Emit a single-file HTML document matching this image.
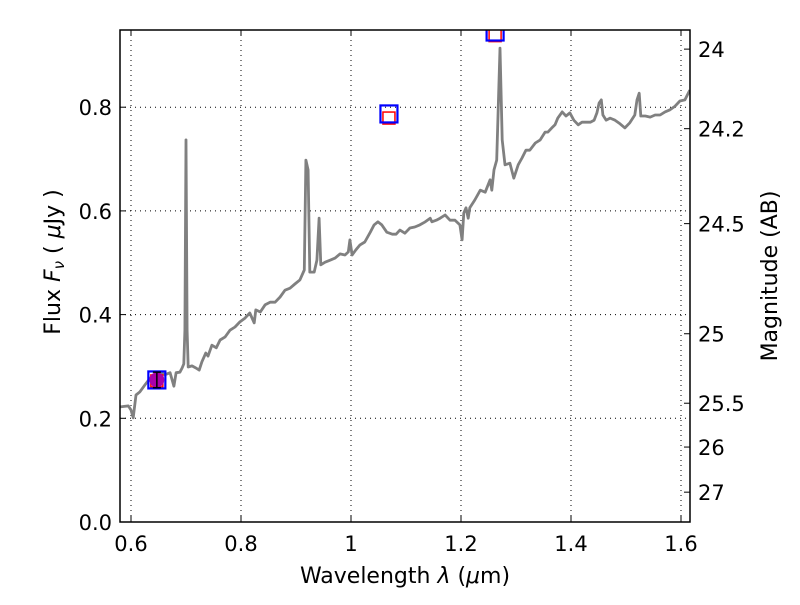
<!DOCTYPE html>
<html><head><meta charset="utf-8"><style>
body{margin:0;background:#fff;font-family:"Liberation Sans","DejaVu Sans",sans-serif;}
svg text{font-family:"DejaVu Sans","Liberation Sans",sans-serif;}
</style></head><body>
<svg id="chart" width="800" height="600" xmlns="http://www.w3.org/2000/svg"></svg>
<script>
const specLambda=[0.580,0.595,0.600,0.604,0.609,0.616,0.625,0.635,0.644,0.653,0.662,0.671,0.678,0.682,0.689,0.693,0.696,0.698,0.700,0.702,0.704,0.711,0.718,0.724,0.729,0.736,0.740,0.747,0.755,0.762,0.771,0.780,0.789,0.798,0.807,0.816,0.824,0.827,0.835,0.844,0.853,0.862,0.871,0.880,0.889,0.898,0.907,0.915,0.918,0.922,0.925,0.933,0.938,0.942,0.945,0.953,0.962,0.971,0.980,0.989,0.995,0.998,1.002,1.009,1.016,1.025,1.035,1.042,1.049,1.056,1.065,1.075,1.082,1.089,1.098,1.107,1.116,1.125,1.135,1.144,1.147,1.155,1.162,1.171,1.180,1.189,1.198,1.202,1.205,1.209,1.213,1.216,1.225,1.235,1.244,1.253,1.256,1.260,1.265,1.271,1.275,1.280,1.289,1.296,1.304,1.311,1.318,1.325,1.335,1.344,1.353,1.358,1.365,1.371,1.376,1.384,1.391,1.398,1.405,1.413,1.420,1.427,1.435,1.442,1.447,1.451,1.455,1.458,1.464,1.471,1.480,1.489,1.498,1.507,1.516,1.520,1.524,1.527,1.535,1.544,1.553,1.562,1.571,1.580,1.589,1.598,1.607,1.616];
const specFlux=[0.222,0.224,0.216,0.201,0.245,0.251,0.264,0.278,0.284,0.288,0.284,0.288,0.262,0.288,0.289,0.297,0.305,0.370,0.737,0.370,0.299,0.301,0.297,0.293,0.309,0.326,0.320,0.341,0.336,0.351,0.357,0.370,0.376,0.386,0.393,0.403,0.384,0.409,0.405,0.419,0.424,0.424,0.434,0.447,0.451,0.459,0.467,0.486,0.698,0.679,0.482,0.482,0.505,0.586,0.496,0.501,0.505,0.509,0.517,0.515,0.521,0.544,0.515,0.525,0.534,0.540,0.559,0.573,0.579,0.573,0.559,0.555,0.555,0.563,0.557,0.567,0.569,0.573,0.579,0.586,0.579,0.582,0.586,0.592,0.582,0.582,0.573,0.544,0.596,0.606,0.586,0.606,0.621,0.640,0.636,0.660,0.640,0.679,0.698,0.914,0.737,0.689,0.692,0.663,0.689,0.702,0.717,0.717,0.731,0.737,0.752,0.752,0.760,0.766,0.779,0.791,0.783,0.789,0.775,0.766,0.771,0.771,0.771,0.775,0.789,0.808,0.814,0.785,0.775,0.779,0.775,0.768,0.760,0.770,0.785,0.814,0.827,0.783,0.783,0.781,0.785,0.785,0.791,0.795,0.802,0.812,0.814,0.833];
const photLambda=[0.647,1.069,1.262];
const photFlux=[0.274,0.787,0.945];
const modelFlux=[0.274,0.781,0.940];
const photErr=[0.015,0,0];
const xTicks=[0.6,0.8,1.0,1.2,1.4,1.6];
const xTickLabels=["0.6","0.8","1","1.2","1.4","1.6"];
const yTicks=[0,0.2,0.4,0.6,0.8];
const yTickLabels=["0.0","0.2","0.4","0.6","0.8"];
const magTicks=[24,24.2,24.5,25,25.5,26,27];
const magTickLabels=["24","24.2","24.5","25","25.5","26","27"];

const L=120,R=690,T=30,B=522;
function sx(v){return 131+(v-0.6)*550;}
function sy(v){return B-v*518.5;}
function magToFlux(m){return Math.pow(10,(23.9-m)/2.5);}
const svg=document.getElementById('chart');
const NS="http://www.w3.org/2000/svg";
function el(tag,attrs,parent){const e=document.createElementNS(NS,tag);for(const k in attrs)e.setAttribute(k,attrs[k]);(parent||svg).appendChild(e);return e;}

const defs=el('defs',{});
const cp=el('clipPath',{id:'clip'},defs);
el('rect',{x:L,y:T,width:R-L,height:B-T},cp);

const grid=el('g',{});


xTicks.forEach(v=>{el('line',{x1:sx(v),x2:sx(v),y1:T,y2:B,stroke:'#000','stroke-width':1,'stroke-dasharray':'1,4'},grid);});
yTicks.forEach(v=>{el('line',{x1:L,x2:R,y1:sy(v),y2:sy(v),stroke:'#000','stroke-width':1,'stroke-dasharray':'1,4'},grid);});

const plot=el('g',{'clip-path':'url(#clip)'});
let d='';
for(let i=0;i<specLambda.length;i++){d+=(i?'L':'M')+sx(specLambda[i]).toFixed(1)+','+sy(specFlux[i]).toFixed(1);}
const line=el('path',{d:d,fill:'none',stroke:'#808080','stroke-width':2.8,'stroke-linejoin':'round'},plot);



for(let i=0;i<photLambda.length;i++){
  const cx=sx(photLambda[i]),cy=sy(photFlux[i]);
  const g=el('g',{},plot);
  
  
  const my=sy(modelFlux[i]);
  el('rect',{x:cx-6,y:my-5,width:12,height:12,fill:'#fff','fill-opacity':0.6,stroke:'#ff0000','stroke-width':1.5},g);
  el('rect',{x:cx-8.5,y:cy-8.5,width:17,height:17,fill:'none',stroke:'#0000ff','stroke-width':2.2},g);
  if(photErr[i]>0){
    el('circle',{cx:cx,cy:cy,r:7.5,fill:'#aa00aa'},g);
    const e1=sy(photFlux[i]+photErr[i]),e2=sy(photFlux[i]-photErr[i]);
    el('line',{x1:cx,x2:cx,y1:e1,y2:e2,stroke:'#000','stroke-width':1.5},g);
    el('line',{x1:cx-4,x2:cx+4,y1:e1,y2:e1,stroke:'#000','stroke-width':1.5},g);
    el('line',{x1:cx-4,x2:cx+4,y1:e2,y2:e2,stroke:'#000','stroke-width':1.5},g);
  }
}

const fr=el('rect',{x:L,y:T,width:R-L,height:B-T,fill:'none',stroke:'#000','stroke-width':1.5});



xTicks.forEach((v,i)=>{
  el('line',{x1:sx(v),x2:sx(v),y1:B,y2:B-6,stroke:'#000'});
  el('line',{x1:sx(v),x2:sx(v),y1:T,y2:T+6,stroke:'#000'});
  const t=el('text',{x:sx(v),y:B+29,'font-size':21,'text-anchor':'middle'});
  t.textContent=xTickLabels[i];
  
  
});
yTicks.forEach((v,i)=>{
  el('line',{x1:L,x2:L+6,y1:sy(v),y2:sy(v),stroke:'#000'});
  const t=el('text',{x:L-8,y:sy(v)+8,'font-size':21,'text-anchor':'end'});
  t.textContent=yTickLabels[i];
  
  
});
magTicks.forEach((m,i)=>{
  const y=sy(magToFlux(m));
  el('line',{x1:R,x2:R-6,y1:y,y2:y,stroke:'#000'});
  const t=el('text',{x:R+8,y:y+8,'font-size':21,'text-anchor':'start'});
  t.textContent=magTickLabels[i];
  
  
});
</script>
<svg width="800" height="600" style="position:absolute;left:0;top:0" xmlns="http://www.w3.org/2000/svg">
<text x="405" y="583" font-size="22" text-anchor="middle" font-family="DejaVu Sans, sans-serif">Wavelength  <tspan font-style="italic">λ</tspan> (<tspan font-style="italic">μ</tspan>m)</text>
<text transform="translate(60,262) rotate(-90)" font-size="22" text-anchor="middle" font-family="DejaVu Sans, sans-serif">Flux  <tspan font-style="italic">F<tspan font-size="15" dy="4">ν</tspan></tspan><tspan dy="-4">  (  </tspan><tspan font-style="italic">μ</tspan>Jy )</text>
<text transform="translate(777,276) rotate(-90)" font-size="22" text-anchor="middle" font-family="DejaVu Sans, sans-serif">Magnitude (AB)</text>
</svg>
</body></html>
